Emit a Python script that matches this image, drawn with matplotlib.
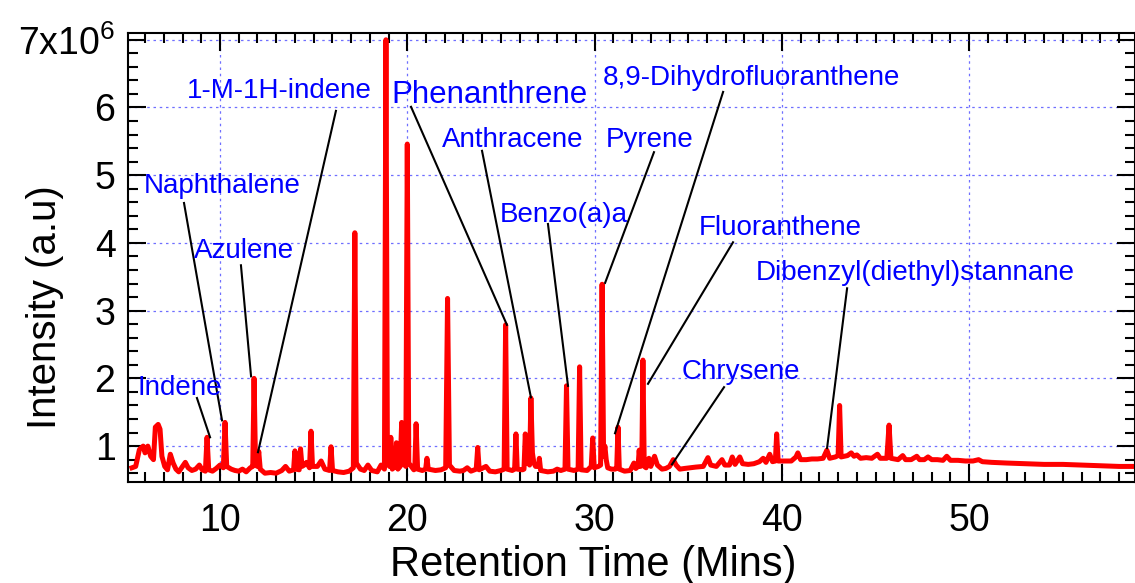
import matplotlib
matplotlib.use("Agg")
import matplotlib.pyplot as plt
from matplotlib.ticker import MultipleLocator, FixedLocator

# chromatogram trace (retention time in min, intensity in 1e6 a.u.)
rt = [5.30, 5.50, 5.70, 5.90, 6.00, 6.15, 6.30, 6.45, 6.55, 6.70,
      6.80, 6.90, 7.05, 7.20, 7.35, 7.50, 7.65, 7.80, 8.00, 8.15,
      8.30, 8.50, 8.70, 8.90, 9.05, 9.22, 9.31, 9.40, 9.60, 9.80,
      10.00, 10.18, 10.27, 10.36,
      10.60, 10.80, 11.00, 11.20, 11.40, 11.62, 11.75, 11.82, 11.90, 12.00,
      12.07, 12.15, 12.40, 12.70, 13.00, 13.30, 13.50, 13.70, 13.93, 14.00,
      14.07, 14.23, 14.30, 14.38, 14.50, 14.62, 14.78, 14.86, 14.94, 15.20,
      15.40, 15.60, 15.85, 15.93, 16.01, 16.30, 16.60, 16.90, 17.12,
      17.20, 17.28, 17.50, 17.70, 17.90, 18.10, 18.40, 18.60, 18.78, 18.86,
      18.94, 19.05, 19.12, 19.20, 19.35, 19.42, 19.50, 19.62, 19.70, 19.78,
      19.92, 20.00, 20.08, 20.35, 20.40, 20.47, 20.55, 20.80, 20.98, 21.05,
      21.12, 21.50, 21.80, 22.05,
      22.15, 22.25, 22.50, 22.80, 23.00, 23.20, 23.40, 23.68, 23.76, 23.84,
      24.20, 24.40, 24.70, 25.00, 25.17, 25.25, 25.33, 25.60, 25.73, 25.80,
      25.87, 26.15, 26.23, 26.30, 26.37, 26.45, 26.53, 26.60, 26.68, 26.76,
      26.85, 27.00, 27.05, 27.12, 27.50, 27.80, 28.00, 28.20, 28.42, 28.50,
      28.58, 28.90, 29.12, 29.20, 29.28, 29.60, 29.82, 29.90, 29.98, 30.20,
      30.32, 30.40, 30.48, 30.55, 30.62, 30.70, 30.90, 31.10, 31.18, 31.25,
      31.32, 31.60, 31.90,
      32.10, 32.20, 32.32, 32.38, 32.45, 32.52, 32.58, 32.65, 32.75, 32.90,
      33.00, 33.20, 33.35, 33.60, 33.80, 34.00, 34.20, 34.35, 34.55, 34.80,
      35.10, 35.40, 35.80, 36.05, 36.20, 36.50, 36.80, 36.95, 37.20, 37.35,
      37.50, 37.75, 37.90, 38.20, 38.50, 38.80, 39.00, 39.15, 39.35, 39.50,
      39.65, 39.72, 39.80, 40.20,
      40.50, 40.75, 40.85, 41.00, 41.30, 41.60, 41.90, 42.20, 42.40, 42.55,
      42.85, 43.00, 43.08, 43.16, 43.50, 43.70, 43.85, 44.00, 44.20, 44.50,
      44.80, 45.10, 45.25, 45.60, 45.72, 45.82, 46.20, 46.45, 46.60, 46.90,
      47.20, 47.35, 47.60, 47.80, 48.00, 48.30, 48.60, 48.80, 49.00, 49.40,
      49.80, 50.20, 50.50, 50.70, 51.20, 52.00, 53.00, 54.00, 55.00, 56.00,
      57.00, 58.00, 58.90]

intensity = [0.68, 0.70, 0.95, 1.00, 0.90, 1.00, 0.85, 0.80, 1.28, 1.32,
             1.25, 0.85, 0.70, 0.65, 0.88, 0.75, 0.66, 0.62, 0.70, 0.76,
             0.68, 0.64, 0.66, 0.72, 0.65, 0.63, 1.13, 0.65, 0.63, 0.67,
             0.72, 0.68, 1.35, 0.70,
             0.66, 0.64, 0.63, 0.66, 0.62, 0.68, 0.70, 2.00, 0.72, 0.70,
             0.92, 0.66, 0.60, 0.61, 0.60, 0.64, 0.70, 0.63, 0.65, 0.93,
             0.66, 0.65, 0.96, 0.70, 0.72, 0.76, 0.68, 1.22, 0.70, 0.70,
             0.78, 0.66, 0.64, 0.99, 0.64, 0.62, 0.61, 0.63, 0.68,
             4.15, 0.75, 0.66, 0.64, 0.72, 0.64, 0.62, 0.72, 0.66, 7.00,
             0.75, 0.70, 1.13, 0.66, 0.70, 1.05, 0.66, 0.70, 1.35, 0.75,
             0.70, 5.46, 0.75, 0.65, 0.66, 1.33, 0.66, 0.64, 0.66, 0.82,
             0.66, 0.64, 0.65, 0.68,
             3.18, 0.72, 0.64, 0.63, 0.64, 0.68, 0.63, 0.66, 0.98, 0.65,
             0.70, 0.63, 0.62, 0.64, 0.66, 2.79, 0.66, 0.64, 0.66, 1.18,
             0.66, 0.65, 0.66, 1.18, 0.75, 0.90, 0.72, 1.71, 0.90, 0.75,
             0.70, 0.70, 0.82, 0.64, 0.62, 0.63, 0.66, 0.64, 0.66, 1.89,
             0.66, 0.64, 0.66, 2.17, 0.65, 0.64, 0.70, 1.12, 0.68, 0.70,
             0.72, 3.39, 0.85, 1.00, 0.80, 0.68, 0.66, 0.66, 0.68, 1.28,
             0.66, 0.63, 0.64,
             0.75, 0.67, 0.70, 0.94, 0.70, 0.75, 2.27, 0.70, 0.68, 0.82,
             0.70, 0.85, 0.72, 0.66, 0.67, 0.70, 0.80, 0.72, 0.66, 0.67,
             0.68, 0.69, 0.70, 0.83, 0.72, 0.70, 0.80, 0.72, 0.72, 0.84,
             0.73, 0.84, 0.74, 0.73, 0.74, 0.77, 0.82, 0.76, 0.88, 0.77,
             0.78, 1.18, 0.78, 0.78,
             0.78, 0.84, 0.90, 0.80, 0.80, 0.81, 0.81, 0.82, 0.94, 0.82,
             0.84, 0.86, 1.60, 0.84, 0.86, 0.90, 0.85, 0.87, 0.82, 0.83,
             0.82, 0.88, 0.82, 0.82, 1.31, 0.82, 0.80, 0.86, 0.80, 0.80,
             0.85, 0.80, 0.80, 0.84, 0.80, 0.80, 0.79, 0.85, 0.79, 0.79,
             0.78, 0.78, 0.80, 0.77, 0.76, 0.75, 0.74, 0.73, 0.73, 0.72,
             0.71, 0.70, 0.70]

# labelled compounds and the peak each leader points at
compounds = ["Indene", "Naphthalene", "Azulene", "1-M-1H-indene",
             "Phenanthrene", "Anthracene", "Benzo(a)a", "Pyrene",
             "8,9-Dihydrofluoranthene", "Fluoranthene", "Chrysene",
             "Dibenzyl(diethyl)stannane"]
compound_rt = [9.47, 10.11, 11.66, 12.03, 25.32, 26.60, 28.58, 30.56,
               31.09, 32.85, 34.13, 42.41]
compound_level = [1.13, 1.38, 2.03, 0.91, 2.79, 1.72, 1.89, 3.41,
                  1.19, 1.92, 0.73, 0.97]

y_ticks = [1, 2, 3, 4, 5, 6, 7]
y_tick_labels = ["1", "2", "3", "4", "5", "6", r"7x10$^{6}$"]

# label layout: (text x, text baseline y), font size, leader start
label_xy = [(5.58, 1.753), (5.95, 4.737), (8.62, 3.777), (8.25, 6.14),
            (19.13, 6.067), (21.86, 5.417), (24.96, 4.309), (30.57, 5.417),
            (30.41, 6.332), (35.58, 4.117), (34.67, 1.99), (38.62, 3.452)]
label_size = [20, 20, 20, 20, 22.5, 20, 20, 20, 20, 20, 20, 20]
leader_from = [(8.77, 1.71), (8.08, 4.59), (11.12, 3.67), (16.19, 5.95),
               (20.20, 6.01), (23.99, 5.36), (27.51, 4.28), (33.17, 5.34),
               (36.86, 6.23), (37.39, 4.01), (36.91, 1.87), (43.48, 3.33)]

plt.rcParams['font.family'] = ['Liberation Sans', 'DejaVu Sans']
plt.rcParams['mathtext.fontset'] = 'custom'
plt.rcParams['mathtext.rm'] = 'Liberation Sans'
plt.rcParams['mathtext.default'] = 'regular'

fig = plt.figure(figsize=(11.35, 5.83), dpi=100)
ax = fig.add_axes([128 / 1135, 101 / 583, 1007 / 1135, 449 / 583])

ax.plot(rt, intensity, color='#ff0000', lw=3.6, zorder=2)

for name, (tx, ty), fs, (fx, fy), px, py in zip(compounds, label_xy, label_size,
                                                leader_from, compound_rt, compound_level):
    ax.text(tx, ty, name, color='#0000ff', fontsize=fs, ha='left', va='baseline', zorder=4)
    ax.plot([fx, px], [fy, py], color='black', lw=1.5, zorder=3)

ax.set_xlim(5.09, 58.85)
ax.set_ylim(0.47, 7.1)
ax.xaxis.set_major_locator(MultipleLocator(10))
ax.xaxis.set_minor_locator(MultipleLocator(1))
ax.yaxis.set_major_locator(FixedLocator(y_ticks))
ax.yaxis.set_minor_locator(MultipleLocator(0.2))
ax.set_yticklabels(y_tick_labels)

ax.grid(True, which='major', color='#6f6fff', ls=(0, (2, 3)), lw=0.9, zorder=1)
ax.set_axisbelow(True)
ax.tick_params(which='both', direction='in', top=True, right=True, width=1.5, color='black')
ax.tick_params(which='major', length=13, labelsize=27)
ax.tick_params(axis='x', which='major', pad=15)
ax.tick_params(axis='y', which='major', pad=9)
ax.tick_params(which='minor', length=7)
for s in ax.spines.values():
    s.set_linewidth(1.5)

ax.set_xlabel('Retention Time (Mins)', fontsize=30)
ax.xaxis.set_label_coords(0.462, -0.14)
ax.set_ylabel('Intensity (a.u)', fontsize=29)
ax.yaxis.set_label_coords(-0.064, 0.39)

fig.savefig('out.png', dpi=100)
